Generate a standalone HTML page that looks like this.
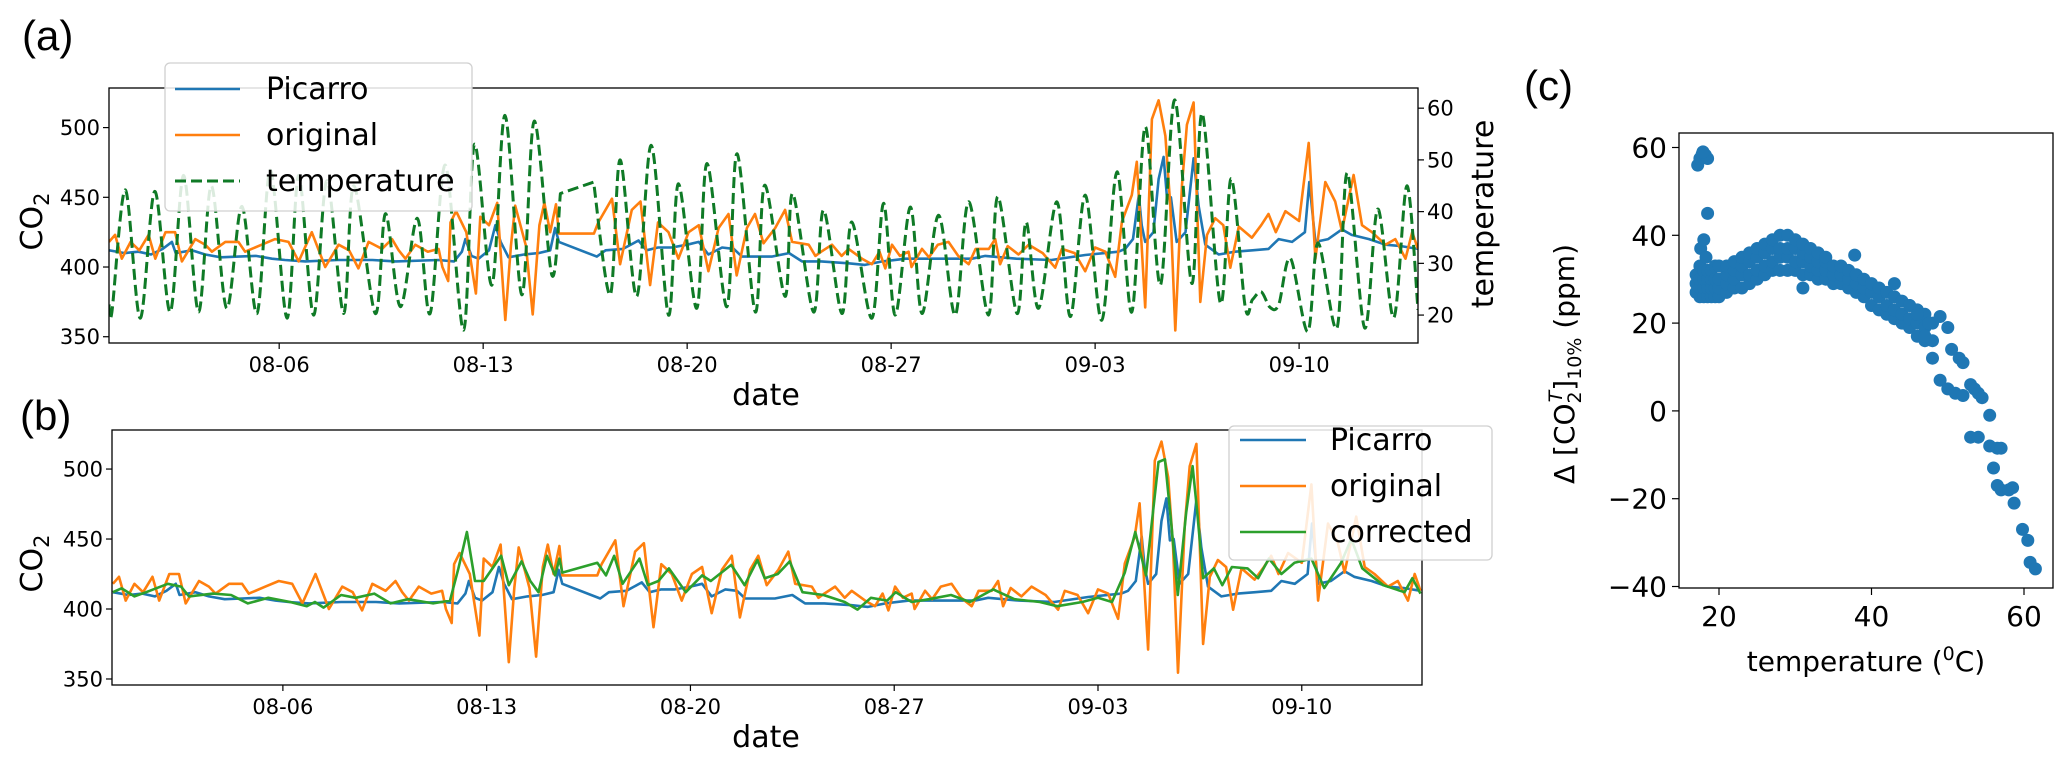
<!DOCTYPE html>
<html><head><meta charset="utf-8"><style>
html,body{margin:0;padding:0;background:#fff;}
svg{display:block;font-family:"DejaVu Sans","Liberation Sans",sans-serif;}
</style></head><body>
<svg id="fig" width="2067" height="767" viewBox="0 0 2067 767" xmlns="http://www.w3.org/2000/svg">
<defs>
<clipPath id="clipA"><rect x="109" y="88" width="1309" height="255"/></clipPath>
<clipPath id="clipB"><rect x="112" y="430" width="1310" height="255"/></clipPath>
<clipPath id="clipC"><rect x="1679" y="133" width="374" height="455"/></clipPath>
</defs>
<text x="22" y="50" font-family="Liberation Sans, sans-serif" font-size="42">(a)</text>
<text x="20" y="430" font-family="Liberation Sans, sans-serif" font-size="42">(b)</text>
<text x="1524" y="100" font-family="Liberation Sans, sans-serif" font-size="42">(c)</text>
<g id="gA"></g>
<g id="gB"></g>
<g id="gC"></g>
</svg>
<script>
// ---------- data ----------
const dateTickDays = [5, 12, 19, 26, 33, 40];
const dateTickLabels = ["08-06", "08-13", "08-20", "08-27", "09-03", "09-10"];
const co2Ticks = [350, 400, 450, 500];
const tempTicks = [20, 30, 40, 50, 60];

const picDays = [-0.84,-0.3,0.17,0.6,1.0,1.32,1.45,2.0,2.46,3.0,3.6,4.2,4.75,5.2,5.9,7.0,8.2,9.0,10.47,11.0,11.27,11.39,11.6,11.84,12.2,12.42,12.6,12.87,13.4,13.9,14.3,14.47,14.6,15.9,16.2,16.8,17.33,17.6,18.0,18.47,19.0,19.4,19.73,20.2,20.6,20.88,21.9,22.5,22.94,23.6,24.54,25.1,25.7,26.5,27.5,28.77,29.23,30.3,31.5,32.66,33.8,34.03,34.3,34.5,34.6,34.72,35.0,35.18,35.35,35.47,35.6,35.8,36.1,36.38,36.55,36.78,37.24,37.8,38.4,38.95,39.3,39.76,40.2,40.35,40.56,41.0,41.47,41.8,42.4,42.96,43.5,44.08];
const picVals = [412,410,411,409,413,418,410,412,409,407,407.5,408,406,405,404,405,405,404,405,404,411,420,408,406,412,430,418,407,409,410,412,428,418,407.5,412,413,419,412,414,414,416,418,409,414,413,407.5,407.5,410,404,404,402.7,401.5,404,406,406,406,408,406,405,408.6,411,413,420,451.7,430,418,425,463,479,449,450,418,425,478,444,416,409,411,412,413,420,418,425,461,418,420,427,423,420,416,415,413];

const origDays = [-0.84,-0.63,-0.4,-0.1,0.2,0.52,0.75,1.1,1.43,1.66,2.12,2.46,2.69,3.15,3.6,3.83,4.4,4.86,5.32,5.67,6.12,6.58,7.04,7.4,7.72,8.07,8.53,8.87,9.1,9.33,9.67,10.1,10.47,10.6,10.8,10.88,11.07,11.42,11.75,11.9,12.2,12.48,12.76,12.95,13.1,13.47,13.7,13.93,14.1,14.3,14.5,14.6,15.8,15.95,16.42,16.7,17.1,17.4,17.73,18.0,18.36,18.7,19.05,19.4,19.73,20.08,20.42,20.7,21.05,21.33,21.62,22.02,22.36,22.6,23.17,23.4,23.6,23.97,24.3,24.54,25.0,25.34,25.6,25.8,26.03,26.3,26.6,26.7,27.06,27.3,27.6,27.97,28.3,28.66,28.9,29.35,29.57,29.74,30.0,30.37,30.72,31.2,31.63,31.86,32.3,32.66,33.0,33.35,33.69,33.92,34.26,34.43,34.72,34.95,35.18,35.41,35.58,35.75,35.98,36.15,36.38,36.61,36.84,37.12,37.4,37.64,37.93,38.38,38.7,38.95,39.2,39.53,40.0,40.33,40.56,40.9,41.24,41.47,41.87,42.16,42.5,42.96,43.3,43.65,43.88,44.08];
const origVals = [418,423,406,418,412,423,406,425,425,404,420,416,411,418,418,411,416,420,418,404,425,400,416,412,399,418,413,420,412,406,416,411,413,400,390,432,440,425,381,436,430,446,362,415,444,415,366,430,446,425,445,424,424,432,449,402,441,447,387,432,425,406,425,430,397,428,438,394,428,438,417,428,441,418,416,408,411,416,408,413,406,402,411,399,416,408,411,400,413,407,416,418,408,402,413,413,420,402,415,409,416,410,399.5,413,410,397,414,411,393,432.5,451.6,475.5,371,506,519.6,494,444,354.5,459,502,518,375,423,435,430,399.5,429,421,430,438,425,440,433,489,406,461,447,426,466,430,425,416,420,406,425,413];

const corrDays = [-0.84,-0.54,-0.1,0.3,1.05,1.5,1.78,2.6,3.22,3.8,4.5,5.25,5.82,6.1,6.4,7.0,7.5,8.14,8.7,9.3,10.16,10.74,11.03,11.32,11.6,11.9,12.5,12.76,13.2,13.5,13.78,14.07,14.35,14.5,14.6,15.8,16.1,16.38,16.67,17.25,17.54,17.9,18.26,18.84,19.4,19.7,20.4,20.86,21.3,21.55,22.0,22.41,22.85,23.57,24.3,24.74,25.2,25.76,26.05,26.6,27.2,27.95,28.6,29.4,30.13,31.0,31.6,32.46,33.0,33.48,33.92,34.28,34.65,35.08,35.3,35.52,35.74,36.03,36.25,36.4,36.61,36.98,37.27,37.6,38.14,38.5,38.87,39.3,39.75,40.33,40.77,41.35,41.7,42.08,42.8,43.53,43.8,44.08];
const corrVals = [412,414.8,409,412,418,416,409,411,410,404,408,405,402,405,401,410,408,411,404,407,404,406,429,455,420,420,438,417,434,420,412,438,424,436,426,433,424,438,418,436,417,420,429,412,424,420,431.5,417,435,422,425,434,412,410,405,399.6,408,406,412,405,407,410,405,414,407,405,402,405,408,405,426,455,424,505,507,460,410,469,502,471,422,429,417,430,429,422,436,425,433,436,415,433,450,429,417,412,422,411];

const tempDays = [-0.84,-0.74,-0.28,0.23,0.73,1.26,1.72,2.23,2.67,3.2,3.72,4.24,4.7,5.27,5.67,6.18,6.64,7.21,7.56,8.3,8.65,9.16,9.74,10.18,10.7,11.33,11.7,12.3,12.75,13.33,13.75,14.36,14.65,15.79,16.36,16.7,17.27,17.77,18.36,18.7,19.33,19.68,20.36,20.71,21.34,21.66,22.36,22.62,23.34,23.68,24.31,24.65,25.34,25.74,26.14,26.66,27.06,27.63,28.2,28.66,29.34,29.66,30.32,30.63,31.06,31.69,32.15,32.66,33.23,33.75,34.26,34.72,35.24,35.73,36.32,36.67,37.3,37.67,38.15,38.4,38.7,39.0,39.3,39.7,40.3,40.65,41.3,41.65,42.25,42.7,43.25,43.7,44.08];
const tempVals = [22,20.6,44.2,19.4,43.9,20.6,47,20.6,45,21.3,41,20.3,48,19.4,47,20,46,20.3,45,20.3,39.6,21.6,38.7,20.3,49,17.1,53,25.8,58.6,23.9,57.5,27.7,43.5,45.7,23.9,50,23.6,52.8,20,45.4,21.3,49.3,21.6,51.2,20.6,45.1,23.6,43.5,20.6,40.3,20.3,38,19.4,41.6,20,40.9,20.3,39.3,20,41.9,20,42.9,20.3,38,21.3,41.9,19.7,43.2,19,47.7,20.6,56.4,25.8,61.6,26.1,59,22.3,46.4,21.6,23,24.5,21.5,22,31,16.8,34,17.5,47.5,17.5,40.5,19.5,45,21];

// panel c scatter
const scatterXTicks = [20, 40, 60];
const scatterYTicks = [-40, -20, 0, 20, 40, 60];
const blobTemps = [17,17.5,18,18.5,19,19.5,20,21,22,23,24,25,26,27,28,29,30,31,32,33,34,35,36,37,38,39,40,41,42,43,44,45,46,47,48];
const blobDeltas = [[27,29,31],[26,28,30,33],[26,28,30,32],[26,28,30,32],[26,28,30,32],[26,28,30,33],[26,28,30,33],[27,29,31,33],[28,30,32,34],[28,31,33,35],[29,31,34,36],[30,32,35,37],[31,33,36,38],[32,34,37,39],[32,35,37,40],[32,35,37,40],[32,34,37,39],[31,34,36,38],[31,33,35,37],[30,32,34,36],[30,32,34,35],[29,31,33],[29,31,33],[28,30,32],[27,29,31],[26,28,30],[24,27,29],[23,26,28],[22,24,27],[21,23,26],[20,22,25],[19,21,24],[17,20,23],[16,19,22],[16,20]];
const extraTemps = [17.2,17.5,17.8,18.2,18.5,17.9,18.5,17.6,18,18.3,31,37.8,43,49,50,47,48,49,50,51,52,50.5,51.5,52,53,53.5,54,54.5,55.5,53,54,55.5,56.5,57,56,56.5,57,58,58.5,58.7,59.8,60.5,60.8,61.5,45,46,47.5];
const extraDeltas = [56,57.5,58.5,58.3,57.5,59,45,37,39,35,28,35.5,29,21.5,19,17,12,7,5,4,3.5,14,12,11,6,5,4,3,-1,-6,-6,-8,-8.5,-8.5,-13,-17,-18,-18,-17.5,-21,-27,-29.5,-34.5,-36,24,22,20];

// ---------- helpers ----------
const NS = "http://www.w3.org/2000/svg";
function mk(parent, tag, attrs, text) {
  const e = document.createElementNS(NS, tag);
  for (const k in attrs) e.setAttribute(k, attrs[k]);
  if (text !== undefined) e.textContent = text;
  parent.appendChild(e);
  return e;
}
function lin(d0, d1, r0, r1) { return v => r0 + (v - d0) * (r1 - r0) / (d1 - d0); }
function pathD(xs, ys, fx, fy) {
  return xs.map((d, i) => (i ? "L" : "M") + fx(d).toFixed(1) + "," + fy(ys[i]).toFixed(1)).join("");
}
function smoothD(xs, ys, fx, fy) {
  const P = xs.map((d, i) => [fx(d), fy(ys[i])]);
  let s = "M" + P[0][0].toFixed(1) + "," + P[0][1].toFixed(1);
  for (let i = 0; i < P.length - 1; i++) {
    const p1 = P[i], p2 = P[i + 1];
    if (xs[i + 1] - xs[i] > 0.8) { s += "L" + p2[0].toFixed(1) + "," + p2[1].toFixed(1); continue; }
    const p0 = (i > 0 && xs[i] - xs[i - 1] <= 0.8) ? P[i - 1] : p1;
    const p3 = (i + 2 < P.length && xs[i + 2] - xs[i + 1] <= 0.8) ? P[i + 2] : p2;
    const k = 0.16;
    let c1x = p1[0] + (p2[0] - p0[0]) * k, c1y = p1[1] + (p2[1] - p0[1]) * k;
    let c2x = p2[0] - (p3[0] - p1[0]) * k, c2y = p2[1] - (p3[1] - p1[1]) * k;
    c1x = Math.min(Math.max(c1x, p1[0]), p2[0]); c2x = Math.min(Math.max(c2x, p1[0]), p2[0]);
    s += "C" + c1x.toFixed(1) + "," + c1y.toFixed(1) + " " + c2x.toFixed(1) + "," + c2y.toFixed(1) + " " + p2[0].toFixed(1) + "," + p2[1].toFixed(1);
  }
  return s;
}

function drawTimePanel(g, box, clipId, rightAxis, legendItems, legendBox, letter) {
  const fx = lin(box.d0, box.d1, box.l, box.r);
  const fy = lin(box.v0, box.v1, box.b, box.t);
  const series = mk(g, "g", {"clip-path": "url(#" + clipId + ")"});
  
  
  const p1 = mk(series, "path", {d: pathD(picDays, picVals, fx, fy), fill: "none", stroke: "#1f77b4", "stroke-width": 2.6, "stroke-linejoin": "round"});
  
  
  const p2 = mk(series, "path", {d: pathD(origDays, origVals, fx, fy), fill: "none", stroke: "#ff7f0e", "stroke-width": 2.6, "stroke-linejoin": "round"});
  
  
  if (rightAxis) {
    const ft = lin(box.T0, box.T1, box.b, box.t);
    const p3 = mk(series, "path", {d: smoothD(tempDays, tempVals, fx, ft), fill: "none", stroke: "#0f7a26", "stroke-width": 3, "stroke-dasharray": "11,5", "stroke-linejoin": "round"});
    
    
    tempTicks.forEach(t => {
      const y = ft(t);
      const tk = mk(g, "line", {x1: box.r, x2: box.r + 6, y1: y, y2: y, stroke: "#000", "stroke-width": 1.2});
      
      
      const tl = mk(g, "text", {x: box.r + 9, y: y + 7.5, "font-size": 21}, String(t));
      
      
    });
    const rl = mk(g, "text", {x: 0, y: 0, "font-size": 30, "text-anchor": "middle", transform: "translate(1493,214) rotate(-90)"}, "temperature");
    
    
  } else {
    const p4 = mk(series, "path", {d: pathD(corrDays, corrVals, fx, fy), fill: "none", stroke: "#2ca02c", "stroke-width": 2.6, "stroke-linejoin": "round"});
    
    
  }
  const frame = mk(g, "rect", {x: box.l, y: box.t, width: box.r - box.l, height: box.b - box.t, fill: "none", stroke: "#000", "stroke-width": 1.3});
  
  
  co2Ticks.forEach(v => {
    const y = fy(v);
    const tk = mk(g, "line", {x1: box.l - 6, x2: box.l, y1: y, y2: y, stroke: "#000", "stroke-width": 1.2});
    
    
    const tl = mk(g, "text", {x: box.l - 9, y: y + 7.5, "font-size": 21, "text-anchor": "end"}, String(v));
    
    
  });
  dateTickDays.forEach((d, i) => {
    const x = fx(d);
    const tk = mk(g, "line", {x1: x, x2: x, y1: box.b, y2: box.b + 6, stroke: "#000", "stroke-width": 1.2});
    
    
    const tl = mk(g, "text", {x: x, y: box.b + 29, "font-size": 21, "text-anchor": "middle"}, dateTickLabels[i]);
    
    
  });
  const xl = mk(g, "text", {x: 766, y: box.b + 62, "font-size": 30, "text-anchor": "middle"}, "date");
  
  
  const yl = mk(g, "text", {x: 0, y: 0, "font-size": 30, "text-anchor": "middle", transform: "translate(42," + ((box.t + box.b) / 2 + 6) + ") rotate(-90)"});
  
  
  mk(yl, "tspan", {}, "CO");
  mk(yl, "tspan", {"font-size": 21, dy: 7}, "2");
  // legend
  const lg = mk(g, "g", {});
  
  
  const lr = mk(lg, "rect", {x: legendBox.x, y: legendBox.y, width: legendBox.w, height: legendBox.h, rx: 5, fill: "#fff", "fill-opacity": 0.85, stroke: "#d0d0d0", "stroke-width": 1.3});
  
  
  legendItems.forEach((it, i) => {
    const y = legendBox.rows[i];
    const ln = mk(lg, "line", {x1: legendBox.lx0, x2: legendBox.lx1, y1: y, y2: y, stroke: it.color, "stroke-width": it.dash ? 3 : 2.6, "stroke-dasharray": it.dash || "none"});
    
    
    const lt = mk(lg, "text", {x: legendBox.tx, y: y + 10, "font-size": 30}, it.label);
    
    
  });
}

drawTimePanel(document.getElementById("gA"),
  {l: 109, r: 1418, t: 88, b: 343, d0: -0.84, d1: 44.08, v0: 345.5, v1: 528.4, T0: 14.6, T1: 63.9},
  "clipA", true,
  [{label: "Picarro", color: "#1f77b4"}, {label: "original", color: "#ff7f0e"}, {label: "temperature", color: "#0f7a26", dash: "11,5"}],
  {x: 165, y: 63, w: 307, h: 148, rows: [89, 135, 181], lx0: 175, lx1: 240, tx: 266}, "a");

drawTimePanel(document.getElementById("gB"),
  {l: 112, r: 1422, t: 430, b: 685, d0: -0.87, d1: 44.13, v0: 345.7, v1: 527.9},
  "clipB", false,
  [{label: "Picarro", color: "#1f77b4"}, {label: "original", color: "#ff7f0e"}, {label: "corrected", color: "#2ca02c"}],
  {x: 1229, y: 426, w: 263, h: 134, rows: [440, 486, 532], lx0: 1240, lx1: 1306, tx: 1330}, "b");

// ---------- panel c ----------
(function () {
  const g = document.getElementById("gC");
  const L = 1679, R = 2053, T = 133, B = 588;
  const fx = lin(20, 60, 1719, 2024);
  const fy = lin(-40, 60, 586.5, 147.5);
  const pts = mk(g, "g", {"clip-path": "url(#clipC)", fill: "#1f77b4"});
  
  
  blobTemps.forEach((t, i) => {
    blobDeltas[i].forEach(d => {
      const c = mk(pts, "circle", {cx: fx(t).toFixed(1), cy: fy(d).toFixed(1), r: 6.5});
      
      
    });
  });
  extraTemps.forEach((t, i) => {
    const c = mk(pts, "circle", {cx: fx(t).toFixed(1), cy: fy(extraDeltas[i]).toFixed(1), r: 6.5});
    
    
  });
  const fr = mk(g, "rect", {x: L, y: T, width: R - L, height: B - T, fill: "none", stroke: "#000", "stroke-width": 1.3});
  
  
  scatterXTicks.forEach(v => {
    const x = fx(v);
    const tk = mk(g, "line", {x1: x, x2: x, y1: B, y2: B + 7, stroke: "#000", "stroke-width": 1.2});
    
    
    const tl = mk(g, "text", {x: x, y: B + 38, "font-size": 28, "text-anchor": "middle"}, String(v));
    
    
  });
  scatterYTicks.forEach(v => {
    const y = fy(v);
    const tk = mk(g, "line", {x1: L - 7, x2: L, y1: y, y2: y, stroke: "#000", "stroke-width": 1.2});
    
    
    const tl = mk(g, "text", {x: L - 12, y: y + 10, "font-size": 28, "text-anchor": "end"}, (v < 0 ? "\u2212" + (-v) : String(v)));
    
    
  });
  const xl = mk(g, "text", {x: 1866, y: 671, "font-size": 28, "text-anchor": "middle"});
  
  
  mk(xl, "tspan", {}, "temperature (");
  mk(xl, "tspan", {"font-size": 19, dy: -11}, "0");
  mk(xl, "tspan", {dy: 11}, "C)");
  const yl = mk(g, "text", {x: 0, y: 0, "font-size": 28, "text-anchor": "middle", transform: "translate(1574,364) rotate(-90)"});
  
  
  mk(yl, "tspan", {}, "\u0394 [CO");
  mk(yl, "tspan", {"font-size": 19, dy: 7}, "2");
  mk(yl, "tspan", {"font-size": 19, "font-style": "italic", dx: -11, dy: -19}, "T");
  mk(yl, "tspan", {dy: 12}, "]");
  mk(yl, "tspan", {"font-size": 19, dy: 7}, "10%");
  mk(yl, "tspan", {dy: -7}, " (ppm)");
})();
</script>
</body></html>
